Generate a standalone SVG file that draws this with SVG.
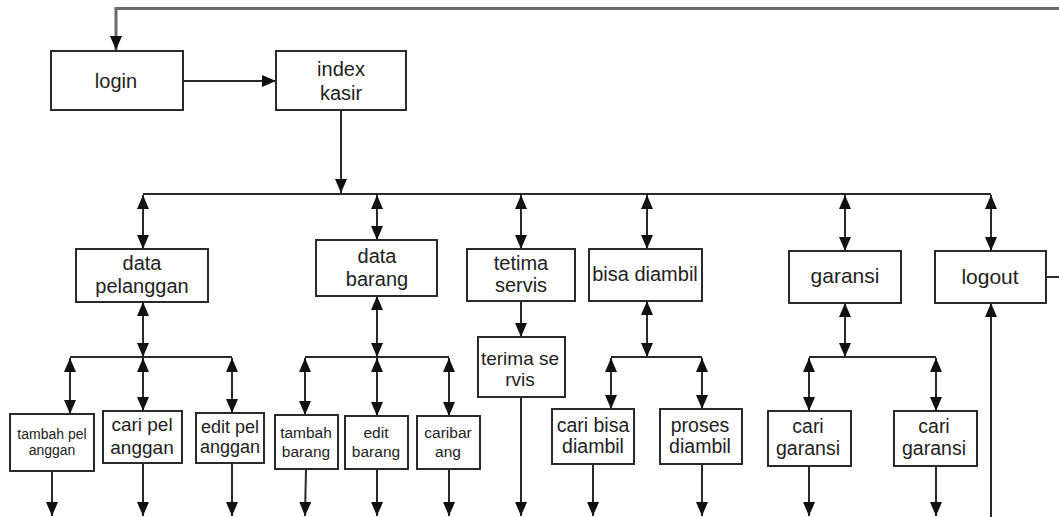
<svg xmlns="http://www.w3.org/2000/svg" width="1059" height="517" viewBox="0 0 1059 517">
<style>
.box{fill:#fff;stroke:#2a2a2a;stroke-width:2}
.t{font-family:"Liberation Sans",Arial,sans-serif;font-size:20px;fill:#222;text-anchor:middle}
.c{fill:none;stroke:#2a2a2a;stroke-width:2}
.a{marker-end:url(#ah)}
.d{marker-start:url(#ah);marker-end:url(#ah)}
</style>
<defs>
<marker id="ah" viewBox="0 0 14 12" refX="14" refY="6" markerWidth="14" markerHeight="12" markerUnits="userSpaceOnUse" orient="auto-start-reverse"><path d="M0,0 L14,6 L0,12 z" fill="#111"/></marker>
</defs>
<rect width="1059" height="517" fill="#fff"/>
<g id="connectors">
<path d="M1059,8.5 H116 V50" fill="none" stroke="#6a6a6a" stroke-width="3" class="a"/>
<line class="c a" x1="183" y1="81" x2="276" y2="81"/>
<line class="c a" x1="341" y1="110" x2="341" y2="193"/>
<line class="c" x1="143" y1="194" x2="991" y2="194"/>
<line class="c d" x1="143" y1="195" x2="143" y2="249"/>
<line class="c d" x1="377" y1="195" x2="377" y2="240"/>
<line class="c d" x1="521" y1="195" x2="521" y2="249"/>
<line class="c d" x1="647" y1="195" x2="647" y2="249"/>
<line class="c d" x1="845" y1="195" x2="845" y2="251"/>
<line class="c d" x1="991" y1="195" x2="991" y2="251"/>
<line class="c" x1="1046" y1="277" x2="1059" y2="277"/>
<line class="c a" x1="991" y1="517" x2="991" y2="303"/>
<!-- pelanggan -->
<line class="c d" x1="143" y1="302" x2="143" y2="357"/>
<line class="c" x1="70" y1="357" x2="232" y2="357"/>
<line class="c d" x1="70" y1="358" x2="70" y2="414"/>
<line class="c d" x1="143" y1="358" x2="143" y2="411"/>
<line class="c d" x1="232" y1="358" x2="232" y2="413"/>
<line class="c a" x1="52" y1="471" x2="52" y2="516"/>
<line class="c a" x1="143" y1="463" x2="143" y2="516"/>
<line class="c a" x1="232" y1="463" x2="232" y2="516"/>
<!-- barang -->
<line class="c d" x1="377" y1="296" x2="377" y2="357"/>
<line class="c" x1="305" y1="357" x2="449" y2="357"/>
<line class="c d" x1="305" y1="358" x2="305" y2="415"/>
<line class="c d" x1="377" y1="358" x2="377" y2="416"/>
<line class="c d" x1="449" y1="358" x2="449" y2="416"/>
<line class="c a" x1="306" y1="469" x2="305" y2="516"/>
<line class="c a" x1="377" y1="469" x2="377" y2="516"/>
<line class="c a" x1="449" y1="469" x2="449" y2="516"/>
<!-- servis -->
<line class="c a" x1="521" y1="301" x2="521" y2="337"/>
<line class="c a" x1="521" y1="397" x2="521" y2="516"/>
<!-- bisa diambil -->
<line class="c d" x1="647" y1="301" x2="647" y2="357"/>
<line class="c" x1="611" y1="357" x2="702" y2="357"/>
<line class="c d" x1="611" y1="358" x2="611" y2="409"/>
<line class="c d" x1="702" y1="358" x2="702" y2="409"/>
<line class="c a" x1="593" y1="464" x2="593" y2="516"/>
<line class="c a" x1="702" y1="464" x2="702" y2="516"/>
<!-- garansi -->
<line class="c d" x1="845" y1="303" x2="845" y2="357"/>
<line class="c" x1="809" y1="357" x2="936" y2="357"/>
<line class="c d" x1="809" y1="358" x2="809" y2="411"/>
<line class="c d" x1="936" y1="358" x2="936" y2="411"/>
<line class="c a" x1="809" y1="466" x2="809" y2="516"/>
<line class="c a" x1="936" y1="466" x2="936" y2="516"/>
</g>
<g id="login"><rect class="box" x="51" y="51" width="132" height="59"/><text class="t" x="116" y="88">login</text></g>
<g id="index-kasir"><rect class="box" x="276" y="51" width="130" height="59"/><text class="t" x="341" y="76">index</text><text class="t" x="341" y="100">kasir</text></g>
<g id="data-pelanggan"><rect class="box" x="76" y="249" width="132" height="53"/><text class="t" x="142" y="270">data</text><text class="t" x="142" y="293">pelanggan</text></g>
<g id="data-barang"><rect class="box" x="316" y="240" width="121" height="56"/><text class="t" x="377" y="263">data</text><text class="t" x="377" y="286">barang</text></g>
<g id="tetima-servis"><rect class="box" x="467" y="249" width="108" height="52"/><text class="t" x="521" y="270">tetima</text><text class="t" x="521" y="292">servis</text></g>
<g id="bisa-diambil"><rect class="box" x="589" y="249" width="113" height="52"/><text class="t" x="645" y="281">bisa diambil</text></g>
<g id="garansi"><rect class="box" x="789" y="251" width="112" height="52"/><text class="t" x="845" y="283" style="font-size:21px">garansi</text></g>
<g id="logout"><rect class="box" x="935" y="251" width="111" height="52"/><text class="t" x="990" y="284" style="font-size:21px">logout</text></g>
<g id="tambah-pelanggan"><rect class="box" x="10" y="414" width="84" height="57"/><text class="t" x="52" y="439" style="font-size:14px">tambah pel</text><text class="t" x="52" y="455" style="font-size:14px">anggan</text></g>
<g id="cari-pelanggan"><rect class="box" x="103" y="411" width="79" height="52"/><text class="t" x="142" y="431" style="font-size:19px">cari pel</text><text class="t" x="142" y="454" style="font-size:19px">anggan</text></g>
<g id="edit-pelanggan"><rect class="box" x="196" y="413" width="68" height="50"/><text class="t" x="230" y="433" style="font-size:18px">edit pel</text><text class="t" x="230" y="453" style="font-size:18px">anggan</text></g>
<g id="tambah-barang"><rect class="box" x="275" y="415" width="63" height="54"/><text class="t" x="306" y="438" style="font-size:15.5px">tambah</text><text class="t" x="306" y="457" style="font-size:15.5px">barang</text></g>
<g id="edit-barang"><rect class="box" x="345" y="416" width="63" height="53"/><text class="t" x="376" y="438" style="font-size:15.5px">edit</text><text class="t" x="376" y="457" style="font-size:15.5px">barang</text></g>
<g id="cari-barang"><rect class="box" x="417" y="416" width="63" height="53"/><text class="t" x="448" y="438" style="font-size:15.5px">caribar</text><text class="t" x="448" y="457" style="font-size:15.5px">ang</text></g>
<g id="terima-servis"><rect class="box" x="478" y="337" width="87" height="60"/><text class="t" x="520" y="365" style="font-size:19px">terima se</text><text class="t" x="520" y="386" style="font-size:19px">rvis</text></g>
<g id="cari-bisa-diambil"><rect class="box" x="552" y="409" width="82" height="55"/><text class="t" x="593" y="432" style="font-size:19.5px">cari bisa</text><text class="t" x="593" y="453" style="font-size:19.5px">diambil</text></g>
<g id="proses-diambil"><rect class="box" x="660" y="409" width="82" height="55"/><text class="t" x="700" y="432" style="font-size:19.5px">proses</text><text class="t" x="700" y="453" style="font-size:19.5px">diambil</text></g>
<g id="cari-garansi-1"><rect class="box" x="768" y="411" width="83" height="55"/><text class="t" x="808" y="433" style="font-size:19.5px">cari</text><text class="t" x="808" y="455" style="font-size:19.5px">garansi</text></g>
<g id="cari-garansi-2"><rect class="box" x="894" y="411" width="83" height="55"/><text class="t" x="934" y="433" style="font-size:19.5px">cari</text><text class="t" x="934" y="455" style="font-size:19.5px">garansi</text></g>
</svg>
